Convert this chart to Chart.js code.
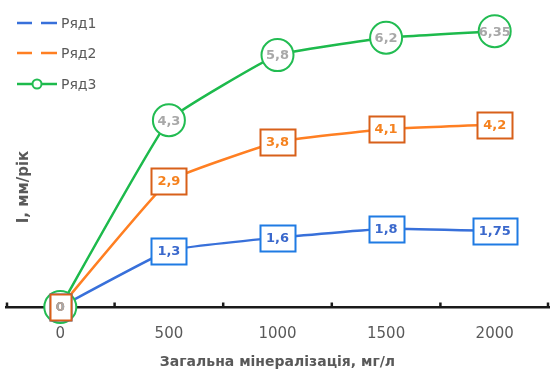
<!DOCTYPE html>
<html>
<head>
<meta charset="utf-8">
<script src="https://cdn.jsdelivr.net/npm/chart.js@4"></script>
<style>
  html, body { margin: 0; padding: 0; background: #fff; }
  #wrap { width: 550px; height: 371px; position: relative; }
</style>
</head>
<body>
<div id="wrap"><canvas id="chart"></canvas></div>
<script>
// Categories on the horizontal axis (total mineralisation, mg/l)
const categories = ['0', '500', '1000', '1500', '2000'];

// Series values (І, мм/рік)
const seriesNames = ['Ряд1', 'Ряд2', 'Ряд3'];
const series1 = [0, 1.3, 1.6, 1.8, 1.75];
const series2 = [0, 2.9, 3.8, 4.1, 4.2];
const series3 = [0, 4.3, 5.8, 6.2, 6.35];

// Axis titles and range
const xTitle = 'Загальна мінералізація, мг/л';
const yTitle = 'І, мм/рік';
const yMin = 0;
const yMax = 7;

// Per-series look: line colour, label text colour, label frame colour, frame shape
const styles = [
  { line: '#3870DA', text: '#3A68CC', frame: '#1F7BE3', shape: 'box' },
  { line: '#FF7F22', text: '#F5821F', frame: '#D8601A', shape: 'box' },
  { line: '#1DBA4C', text: '#A8A8A8', frame: '#22BC52', shape: 'circle' }
];

const GREY = '#595959';
const fmt = v => String(v).replace('.', ',');

const allSeries = [series1, series2, series3];

// Value labels: white boxes / circles with coloured frames, drawn at each point
const valueLabels = {
  id: 'valueLabels',
  afterDatasetsDraw(chart) {
    const ctx = chart.ctx;
    ctx.save();
    ctx.font = 'bold 13px "DejaVu Sans"';
    const shapeOrder = [2, 0, 1];
    const textOrder = [0, 1, 2];
    const geom = (di, j) => {
      const el = chart.getDatasetMeta(di).data[j];
      return { x: el.x, y: el.y, t: fmt(allSeries[di][j]) };
    };
    for (const di of shapeOrder) {
      const st = styles[di];
      allSeries[di].forEach((v, j) => {
        const g = geom(di, j);
        ctx.fillStyle = '#fff';
        ctx.strokeStyle = st.frame;
        ctx.lineWidth = 2;
        ctx.beginPath();
        if (st.shape === 'circle') {
          ctx.arc(g.x, g.y, 16, 0, Math.PI * 2);
        } else {
          const w = Math.round(ctx.measureText(g.t).width) + 12;
          const h = 26;
          ctx.rect(Math.round(g.x - w / 2) + 0.5, Math.round(g.y - h / 2) + 0.5, w, h);
        }
        ctx.fill();
        ctx.stroke();
      });
    }
    ctx.textAlign = 'center';
    ctx.textBaseline = 'middle';
    for (const di of textOrder) {
      const st = styles[di];
      allSeries[di].forEach((v, j) => {
        const g = geom(di, j);
        ctx.fillStyle = st.text;
        ctx.fillText(g.t, g.x, g.y + 1);
      });
    }
    ctx.restore();
  }
};

// Short tick marks standing on the axis line, between categories
const axisTicks = {
  id: 'axisTicks',
  afterDraw(chart) {
    const ctx = chart.ctx;
    const xs = chart.scales.x;
    const area = chart.chartArea;
    const n = categories.length;
    const pos = [area.left];
    for (let i = 0; i < n - 1; i++) {
      pos.push((xs.getPixelForTick(i) + xs.getPixelForTick(i + 1)) / 2);
    }
    pos.push(area.right);
    ctx.save();
    ctx.strokeStyle = '#1a1a1a';
    ctx.lineWidth = 2.5;
    pos.forEach(p => {
      const x = Math.min(Math.max(p, area.left + 1), area.right - 1);
      ctx.beginPath();
      ctx.moveTo(x, area.bottom - 4.5);
      ctx.lineTo(x, area.bottom);
      ctx.stroke();
    });
    ctx.restore();
  }
};

// Axis titles and top-left legend, laid over the chart
const overlays = {
  id: 'overlays',
  afterDraw(chart) {
    const ctx = chart.ctx;
    const area = chart.chartArea;

    // x title
    ctx.save();
    ctx.font = 'bold 14px "DejaVu Sans"';
    ctx.fillStyle = GREY;
    ctx.textAlign = 'center';
    ctx.textBaseline = 'middle';
    ctx.fillText(xTitle, (area.left + area.right) / 2, 362);
    ctx.restore();

    // y title
    ctx.save();
    ctx.translate(24, 187);
    ctx.rotate(-Math.PI / 2);
    ctx.font = 'bold 15px "DejaVu Sans"';
    ctx.fillStyle = GREY;
    ctx.textAlign = 'center';
    ctx.textBaseline = 'middle';
    ctx.fillText(yTitle, 0, 0);
    ctx.restore();

    // legend
    ctx.save();
    const rows = [23, 53, 84];
    ctx.font = '14px "DejaVu Sans"';
    ctx.textBaseline = 'middle';
    ctx.textAlign = 'left';
    seriesNames.forEach((name, i) => {
      const y = rows[i];
      const st = styles[i];
      ctx.strokeStyle = st.line;
      ctx.lineWidth = 2.5;
      ctx.beginPath();
      ctx.moveTo(17, y);
      ctx.lineTo(57, y);
      ctx.stroke();
      if (st.shape === 'circle') {
        ctx.fillStyle = '#fff';
        ctx.strokeStyle = st.frame;
        ctx.lineWidth = 2;
        ctx.beginPath();
        ctx.arc(37, y, 4.5, 0, Math.PI * 2);
        ctx.fill();
        ctx.stroke();
      } else {
        ctx.fillStyle = '#fff';
        ctx.fillRect(32, y - 3, 9, 6);
      }
      ctx.fillStyle = GREY;
      ctx.fillText(name, 61, y + 1);
    });
    ctx.restore();
  }
};

const datasets = allSeries.map((data, i) => ({
  label: seriesNames[i],
  data: data,
  borderColor: styles[i].line,
  backgroundColor: styles[i].line,
  borderWidth: 2.5,
  pointRadius: 0,
  pointHoverRadius: 0,
  tension: 0.1,
  fill: false
}));

new Chart(document.getElementById('chart'), {
  type: 'line',
  data: { labels: categories, datasets: datasets },
  options: {
    responsive: true,
    maintainAspectRatio: false,
    animation: false,
    events: [],
    layout: { padding: { top: 3, left: 6, right: 1, bottom: 9 } },
    plugins: {
      legend: { display: false },
      tooltip: { enabled: false }
    },
    scales: {
      x: {
        type: 'category',
        offset: true,
        grid: { display: true, drawOnChartArea: false, drawTicks: false, color: 'rgba(0,0,0,0)' },
        border: { display: true, color: '#1a1a1a', width: 2.5 },
        ticks: {
          color: GREY,
          font: { family: 'DejaVu Sans', size: 15 },
          padding: 18.5,
          maxRotation: 0,
          autoSkip: false
        },
        title: { display: false }
      },
      y: {
        display: false,
        min: yMin,
        max: yMax
      }
    }
  },
  plugins: [valueLabels, axisTicks, overlays]
});
</script>
</body>
</html>
